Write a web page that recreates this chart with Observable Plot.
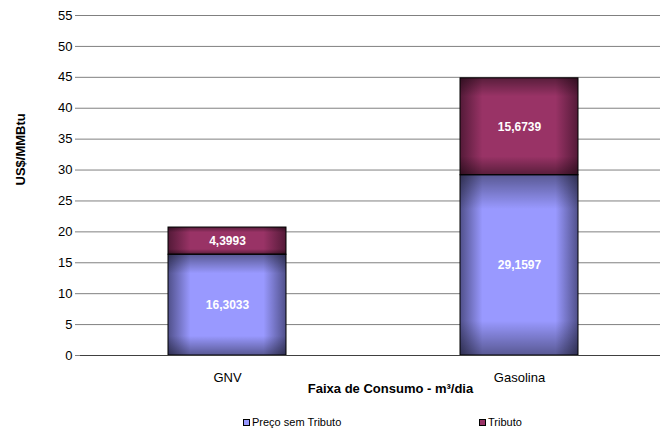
<!DOCTYPE html>
<html>
<head>
<meta charset="utf-8">
<script src="https://cdn.jsdelivr.net/npm/d3@7"></script>
<script src="https://cdn.jsdelivr.net/npm/@observablehq/plot@0.6"></script>
<style>
  html, body { margin: 0; padding: 0; background: #fff; }
  #wrap { position: relative; width: 660px; height: 432px; font-family: "Liberation Sans", Arial, sans-serif; overflow: hidden; }
  .leg { position: absolute; top: 416px; font-size: 11px; color: #000; display: flex; align-items: center; white-space: nowrap; }
  .sw { width: 5px; height: 5px; border: 1px solid #000; margin-right: 2px; display: inline-block; }
</style>
</head>
<body>
<div id="wrap">
  <div id="chart"></div>
  <div class="leg" style="left:243px"><span class="sw" style="background:#9999ff"></span>Preço sem Tributo</div>
  <div class="leg" style="left:479px"><span class="sw" style="background:#993366"></span>Tributo</div>
</div>
<svg width="0" height="0" style="position:absolute">
  <defs>
    <linearGradient id="gPreco" x1="0" x2="1" y1="0" y2="0">
      <stop offset="0" stop-color="#50508a"/>
      <stop offset="0.19" stop-color="#9999ff"/>
      <stop offset="0.81" stop-color="#9999ff"/>
      <stop offset="1" stop-color="#50508a"/>
    </linearGradient>
    <linearGradient id="gTrib" x1="0" x2="1" y1="0" y2="0">
      <stop offset="0" stop-color="#541a38"/>
      <stop offset="0.19" stop-color="#993366"/>
      <stop offset="0.81" stop-color="#993366"/>
      <stop offset="1" stop-color="#541a38"/>
    </linearGradient>
    <linearGradient id="gShade" x1="0" x2="0" y1="0" y2="1">
      <stop offset="0" stop-color="#000" stop-opacity="0.42"/>
      <stop offset="0.19" stop-color="#000" stop-opacity="0"/>
      <stop offset="0.81" stop-color="#000" stop-opacity="0"/>
      <stop offset="1" stop-color="#000" stop-opacity="0.42"/>
    </linearGradient>
  </defs>
</svg>
<script>
const categories = ["GNV", "Gasolina"];
const seriesNames = ["Preço sem Tributo", "Tributo"];
const precoSemTributo = [16.3033, 29.1597];
const tributo = [4.3993, 15.6739];
const yTicks = [0, 5, 10, 15, 20, 25, 30, 35, 40, 45, 50, 55];

const data = [];
categories.forEach((c, i) => {
  data.push({cat: c, series: seriesNames[0], value: precoSemTributo[i]});
  data.push({cat: c, series: seriesNames[1], value: tributo[i]});
});

const fmt = v => v.toFixed(4).replace(".", ",");
const font = "Liberation Sans, Arial, sans-serif";

const chart = Plot.plot({
  width: 660,
  height: 405,
  marginLeft: 80,
  marginRight: 0,
  marginTop: 15,
  marginBottom: 50,
  style: {fontFamily: font, fontSize: "13px", color: "#000", background: "#fff", overflow: "visible"},
  x: {domain: categories, range: [80, 665], paddingInner: 0.5966, paddingOuter: 0.2983, label: null},
  y: {domain: [0, 55], ticks: yTicks, label: null},
  color: {domain: seriesNames, range: ["url(#gPreco)", "url(#gTrib)"]},
  marks: [
    Plot.gridY(yTicks, {stroke: "#808080", strokeOpacity: 1}),
    Plot.axisY(yTicks, {tickSize: 5, tickPadding: 3, label: null, stroke: "#808080", fontSize: 13, tickFormat: d => String(d)}),
    Plot.axisX({tickSize: 0, tickPadding: 17, label: null, fontSize: 13}),
    Plot.barY(data, Plot.stackY({x: "cat", y: "value", z: "series", fill: "series"})),
    Plot.barY(data, Plot.stackY({x: "cat", y: "value", z: "series", fill: "url(#gShade)", stroke: "#000", strokeWidth: 1})),
    Plot.text(data, Plot.stackY({x: "cat", y: "value", z: "series", text: d => fmt(d.value), fill: "#fff", fontWeight: "bold", fontSize: 12})),
    Plot.ruleX([0], {frameAnchor: "left", stroke: "#808080"}),
    Plot.ruleY([0], {stroke: "#404040"}),
    Plot.text(["US$/MMBtu"], {frameAnchor: "left", rotate: -90, dx: -60, fontWeight: "bold", fontSize: 13}),
    Plot.text(["Faixa de Consumo - m³/dia"], {frameAnchor: "bottom", dx: 20, dy: 37, fontWeight: "bold", fontSize: 13})
  ]
});
document.getElementById("chart").appendChild(chart);
</script>
</body>
</html>
